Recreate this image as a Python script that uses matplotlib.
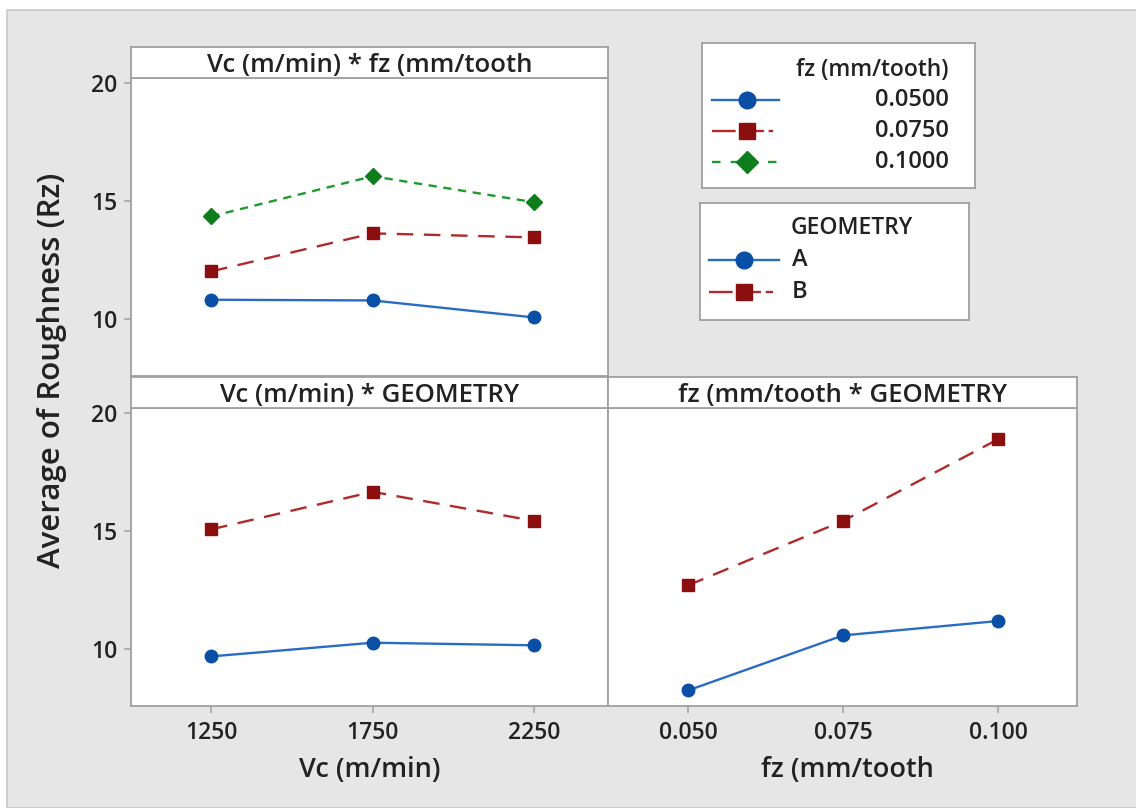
import matplotlib
matplotlib.use('Agg')
import matplotlib.pyplot as plt
from matplotlib.patches import Rectangle

plt.rcParams['font.family'] = ['Open Sans', 'DejaVu Sans']
plt.rcParams['font.weight'] = 'semibold'

# interaction means of Rz
vc_levels = [1250, 1750, 2250]
fz_levels = [0.050, 0.075, 0.100]
fz_ticks = ['0.050', '0.075', '0.100']
fz_names = ['0.0500', '0.0750', '0.1000']
geom_names = ['A', 'B']

# Vc * fz  (rows = fz level)
rz_vc_fz = [
    [10.83, 10.80, 10.08],
    [12.03, 13.64, 13.47],
    [14.36, 16.06, 14.96],
]
# Vc * GEOMETRY
rz_vc_geom = [
    [9.70, 10.28, 10.17],
    [15.08, 16.67, 15.44],
]
# fz * GEOMETRY
rz_fz_geom = [
    [8.26, 10.59, 11.20],
    [12.71, 15.44, 18.90],
]

BLUE_L, BLUE_M = '#2a6cc4', '#0a4fa6'
RED_L, RED_M = '#b02a2a', '#8c0f0f'
GREEN_L, GREEN_M = '#1f9a2e', '#0e7d1c'
styles = [
    dict(color=BLUE_L, mfc=BLUE_M, mec=BLUE_M, marker='o', ms=9, ls='-'),
    dict(color=RED_L, mfc=RED_M, mec=RED_M, marker='s', ms=8.5, ls=(0, (7, 4.5))),
    dict(color=GREEN_L, mfc=GREEN_M, mec=GREEN_M, marker='D', ms=8, ls=(0, (3.5, 2.8))),
]
# legend samples: bigger markers, dash pattern tuned for a short segment
legend_ls = ['-', (0, (10, 2)), (0, (3.6, 4.3))]
legend_end = [779, 773, 779]
legend_ms = [12, 11, 11]
EDGE = '#a0a0a0'
TXT = '#222222'
YLIM = (7.6, 20.22)

W, H = 1136, 808
fig = plt.figure(figsize=(W / 100, H / 100), dpi=100, facecolor='white')
fig.patches.append(Rectangle((7 / W, 0), 1, 1 - 10 / H, transform=fig.transFigure,
                             facecolor='#e6e6e6', edgecolor='#c8c8c8', lw=1.2, zorder=-10))


def box(x0, y0, x1, y1):
    return [x0 / W, 1 - y1 / H, (x1 - x0) / W, (y1 - y0) / H]


def frame(ax):
    for s in ax.spines.values():
        s.set_color(EDGE)
        s.set_linewidth(1.3)


def panel(rect, strip_rect, title):
    ax = fig.add_axes(rect)
    ax.set_facecolor('white')
    frame(ax)
    ax.set_ylim(*YLIM)
    ax.tick_params(colors=EDGE, labelcolor=TXT, labelsize=16.5, length=5, width=1.1, pad=5)
    st = fig.add_axes(strip_rect)
    st.set_xticks([]); st.set_yticks([])
    frame(st)
    st.text(0.5, 0.40, title, ha='center', va='center', fontsize=18.5, color=TXT)
    return ax


ax1 = panel(box(131, 78, 608, 376), box(131, 47, 608, 78), 'Vc (m/min) * fz (mm/tooth')
ax2 = panel(box(131, 408, 608, 706), box(131, 377, 608, 408), 'Vc (m/min) * GEOMETRY')
ax3 = panel(box(608, 408, 1077, 706), box(608, 377, 1077, 408), 'fz (mm/tooth * GEOMETRY')

for i, row in enumerate(rz_vc_fz):
    ax1.plot(vc_levels, row, lw=1.7, **styles[i])
for i, row in enumerate(rz_vc_geom):
    ax2.plot(vc_levels, row, lw=1.7, **styles[i])
for i, row in enumerate(rz_fz_geom):
    ax3.plot(fz_levels, row, lw=1.7, **styles[i])

for ax in (ax1, ax2):
    ax.set_xlim(1002, 2479)
    ax.set_xticks(vc_levels)
    ax.set_yticks([10, 15, 20])
ax1.tick_params(axis='x', bottom=False, labelbottom=False)
ax3.set_xlim(0.0371, 0.1127)
ax3.set_xticks(fz_levels)
ax3.set_xticklabels(fz_ticks)
ax3.set_yticks([10, 15, 20])
ax3.tick_params(axis='y', left=False, labelleft=False)
for ax in (ax2, ax3):
    ax.tick_params(axis='x', pad=6)

fig.text(370 / W, 1 - 770 / H, 'Vc (m/min)', ha='center', va='center', fontsize=19.5, color=TXT)
fig.text(847 / W, 1 - 770 / H, 'fz (mm/tooth', ha='center', va='center', fontsize=19.5, color=TXT)
fig.text(52 / W, 1 - 370 / H, 'Average of Roughness (Rz)', rotation=90,
         ha='center', va='center', fontsize=22.5, color=TXT)


def legend_box(rect):
    lg = fig.add_axes(rect)
    lg.set_xlim(rect[0] * W, (rect[0] + rect[2]) * W)
    lg.set_ylim(H - rect[1] * H, H - (rect[1] + rect[3]) * H)
    lg.set_xticks([]); lg.set_yticks([])
    lg.set_facecolor('white')
    frame(lg)
    return lg


def sample(lg, i, x0, xm, y):
    st = styles[i]
    lg.plot([x0, legend_end[i]], [y, y], color=st['color'], lw=1.7, ls=legend_ls[i])
    lg.plot([xm], [y], ls='none', marker=st['marker'], ms=legend_ms[i],
            mfc=st['mfc'], mec=st['mec'])


# fz legend (axes in pixel units, y downwards)
lg1 = legend_box(box(702, 43, 975, 188))
lg1.text(948, 70, 'fz (mm/tooth)', ha='right', va='center', fontsize=16.5, color=TXT)
for i, name in enumerate(fz_names):
    yy = 100 + 31 * i
    sample(lg1, i, 712, 747, yy)
    lg1.text(949, yy, name, ha='right', va='center', fontsize=17, color=TXT)

# GEOMETRY legend
lg2 = legend_box(box(700, 203, 969, 320))
lg2.text(791, 228, 'GEOMETRY', ha='left', va='center', fontsize=16.5, color=TXT)
for i, name in enumerate(geom_names):
    yy = 260 + 32 * i
    sample(lg2, i, 709, 744, yy)
    lg2.text(792, yy, name, ha='left', va='center', fontsize=17, color=TXT)

fig.savefig('out.png', dpi=100, facecolor='white')
